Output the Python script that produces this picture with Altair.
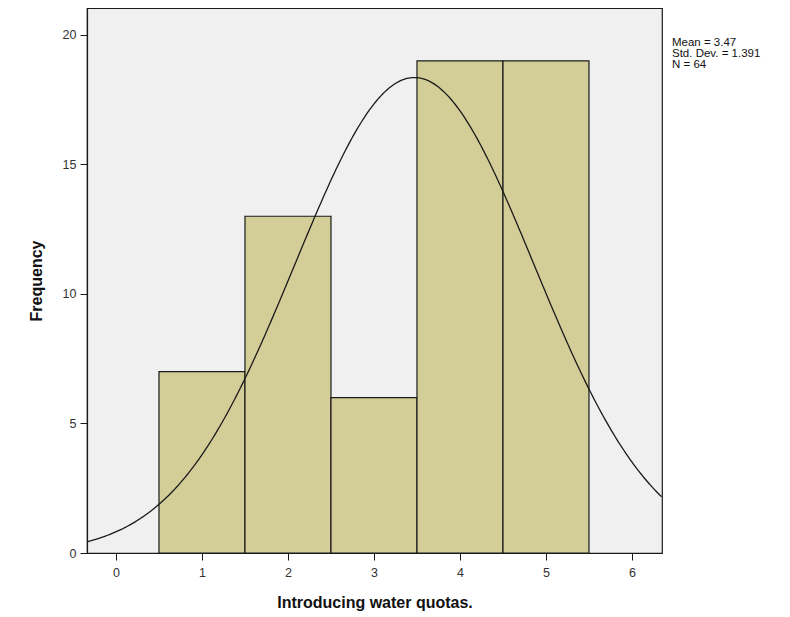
import altair as alt
import pandas as pd

# Data
categories = [1, 2, 3, 4, 5]
frequencies = [7, 13, 6, 19, 19]
stat_lines = ["Mean = 3.47", "Std. Dev. = 1.391", "N = 64"]
mean_val = 3.47
sd_val = 1.391
n_val = 64

bars_df = pd.DataFrame({"value": categories, "count": frequencies})

X_DOMAIN = [-0.337, 6.349]
Y_DOMAIN = [0, 21.04]
FONT = "Liberation Sans"

xscale = alt.Scale(domain=X_DOMAIN, nice=False, zero=False)
yscale = alt.Scale(domain=Y_DOMAIN, nice=False, zero=True)

xaxis = alt.Axis(values=[0, 1, 2, 3, 4, 5, 6], title="Introducing water quotas.",
                 grid=False, format="d", labelFlush=False)
yaxis = alt.Axis(values=[0, 5, 10, 15, 20], title="Frequency", grid=False,
                 format="d")

bars = alt.Chart(bars_df).transform_calculate(
    x0="datum.value - 0.5", x1="datum.value + 0.5"
).mark_bar(fill="#D3CE98", stroke="#1a1a1a", strokeWidth=1.2).encode(
    x=alt.X("x0:Q", scale=xscale, axis=xaxis),
    x2="x1:Q",
    y=alt.Y("count:Q", scale=yscale, axis=yaxis),
    y2=alt.datum(0),
)

curve = alt.Chart(alt.sequence(X_DOMAIN[0], X_DOMAIN[1] + 0.01, 0.02, as_="t")).transform_calculate(
    dens=f"{n_val} / ({sd_val} * sqrt(2 * PI)) * exp(-0.5 * pow((datum.t - {mean_val}) / {sd_val}, 2))"
).mark_line(color="#1a1a1a", strokeWidth=1.3, clip=True).encode(
    x=alt.X("t:Q", scale=xscale),
    y=alt.Y("dens:Q", scale=yscale),
)

stat_layers = []
for i, line in enumerate(stat_lines):
    stat_layers.append(
        alt.Chart(pd.DataFrame({"label": [line]})).mark_text(
            align="left", baseline="middle", fontSize=11.5, font=FONT,
            color="#111111", clip=False
        ).encode(x=alt.value(585), y=alt.value(35 + 11 * i), text="label:N")
    )

chart = alt.layer(bars, curve, *stat_layers).properties(
    width=575, height=545,
    autosize=alt.AutoSizeParams(type="none"),
    padding={"left": 79, "top": 0, "right": 120, "bottom": 60},
).configure_view(
    fill="#F0F0F0", stroke="#1a1a1a", strokeWidth=1.2
).configure_axis(
    domainColor="#1a1a1a", domainWidth=1.2, tickColor="#1a1a1a", tickSize=7,
    labelFont=FONT, labelFontSize=12.5, labelColor="#333333", labelPadding=4,
    titleFont=FONT, titleFontSize=16, titleFontWeight="bold", titleColor="#111111",
).configure_axisX(titlePadding=16, labelPadding=6).configure_axisY(titlePadding=18)

chart.save("out.html", embed_options={"renderer": "svg", "actions": False})
